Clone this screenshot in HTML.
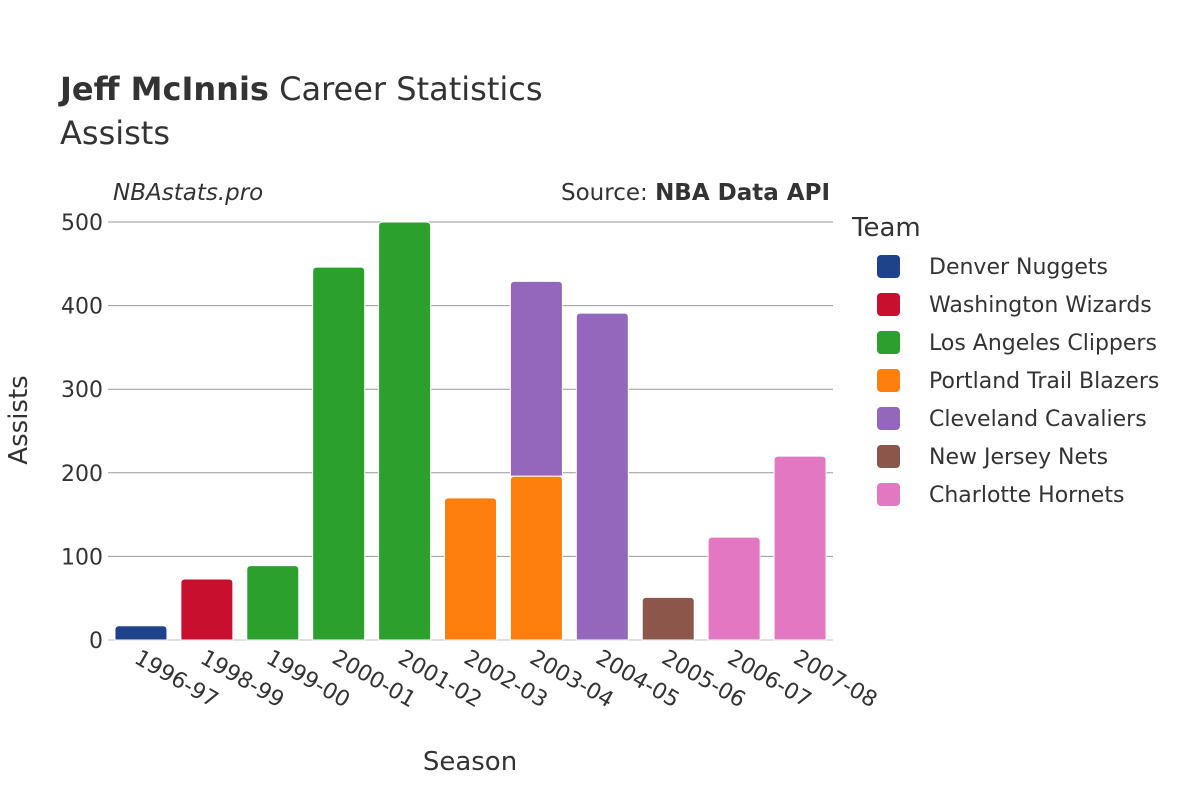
<!DOCTYPE html>
<html><head><meta charset="utf-8"><style>
body{margin:0;background:#fff}
svg text{font-family:"DejaVu Sans","Liberation Sans",sans-serif;fill:#333}
</style></head><body>
<svg id="chart" width="1200" height="800" viewBox="0 0 1200 800">
<text x="60" y="100" font-size="32"><tspan font-weight="bold">Jeff McInnis</tspan> Career Statistics</text>
<text x="60" y="144" font-size="32">Assists</text>
<text x="113" y="200" font-size="23" font-style="italic">NBAstats.pro</text>
<text x="830" y="200" font-size="23" text-anchor="end">Source: <tspan font-weight="bold">NBA Data API</tspan></text>
<g id="grid"></g>
<g id="bars"></g>
<g id="xticks"></g>
<text x="470" y="770" font-size="26" text-anchor="middle">Season</text>
<text transform="translate(27,420) rotate(-90)" font-size="26" text-anchor="middle">Assists</text>
<text x="852" y="236" font-size="26">Team</text>
<g id="legend"></g>
</svg>
<script>
const seasons=["1996-97","1998-99","1999-00","2000-01","2001-02","2002-03","2003-04","2004-05","2005-06","2006-07","2007-08"];
const teams=["Denver Nuggets","Washington Wizards","Los Angeles Clippers","Portland Trail Blazers","Cleveland Cavaliers","New Jersey Nets","Charlotte Hornets"];
const colors=["#1f438a","#c8102e","#2ca02c","#ff7f0e","#9467bd","#8c564b","#e377c2"];
const stacks=[
 [[0,17]],[[1,73]],[[2,89]],[[2,446]],[[2,500]],[[3,170]],[[3,196],[4,233]],[[4,391]],[[5,51]],[[6,123]],[[6,220]]
];
const yTicks=[0,100,200,300,400,500];
const NS="http://www.w3.org/2000/svg";
const x0=108,x1=833,yb=640,yt=222,ymax=500;
const step=(x1-x0)/seasons.length, bw=52;
const xc=i=>x0+step*(i+0.5);
const ys=v=>yb-(yb-yt)*v/ymax;
function mk(tag,attrs,parent){const e=document.createElementNS(NS,tag);for(const k in attrs)e.setAttribute(k,attrs[k]);parent.appendChild(e);return e;}
const grid=document.getElementById('grid');
yTicks.forEach(t=>{
 const l=mk('line',{x1:x0,x2:x1,y1:ys(t),y2:ys(t),stroke:t===0?'#e0e0e0':'#999','stroke-width':t===0?2:1},grid);
 
 
 const tx=mk('text',{x:x0-5,y:ys(t)+8,'font-size':22,'text-anchor':'end'},grid);
 tx.textContent=t;
 
 
});
const bars=document.getElementById('bars');
stacks.forEach((st,i)=>{
 let base=0;
 st.forEach(([ti,v])=>{
  const top=ys(base+v),bot=ys(base);
  const p=mk('path',{d:`M${xc(i)-bw/2},${bot}V${top+4}Q${xc(i)-bw/2},${top} ${xc(i)-bw/2+4},${top}H${xc(i)+bw/2-4}Q${xc(i)+bw/2},${top} ${xc(i)+bw/2},${top+4}V${bot}Z`,fill:colors[ti],stroke:'#fff','stroke-width':1},bars);
  
  
  base+=v;
 });
});
const xt=document.getElementById('xticks');
seasons.forEach((s,i)=>{
 const t=mk('text',{transform:`translate(${xc(i)-8},${yb+22}) rotate(30)`,'font-size':22},xt);
 t.textContent=s;
 
 
});
const lg=document.getElementById('legend');
teams.forEach((tm,i)=>{
 const g=mk('g',{},lg);
 
 
 const y=266+38*i;
 mk('rect',{x:877,y:y-11,width:23,height:23,rx:4,fill:colors[i]},g);
 const t=mk('text',{x:929,y:y+8,'font-size':22},g);
 t.textContent=tm;
});
</script>
</body></html>
